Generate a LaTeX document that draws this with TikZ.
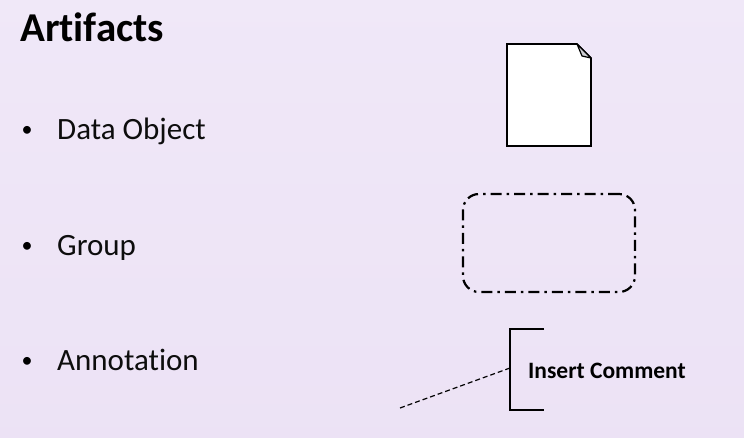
\documentclass[tikz,border=0pt]{standalone}
\usepackage{fontspec}
\setmainfont{Carlito}[RawFeature={-liga;-clig;-calt;-rlig;-dlig}]
\usetikzlibrary{calc}
\definecolor{bgA}{RGB}{251,249,255}
\definecolor{bgB}{RGB}{245,240,252}
\definecolor{bgC}{RGB}{236,226,245}
\definecolor{bgD}{RGB}{216,201,228}
\definecolor{bgE}{RGB}{192,176,206}
\definecolor{foldgray}{RGB}{205,205,210}
\pgfdeclareverticalshading{slidebg}{744pt}{%
  color(0pt)=(bgE); color(80pt)=(bgD); color(190pt)=(bgC); color(320pt)=(bgB); color(437pt)=(bgA)}
\tikzset{
  bullettext/.style={anchor=base west, inner sep=0pt, font=\fontsize{31}{36}\selectfont, text=black!95},
  bulletdot/.style={anchor=base, inner sep=0pt, font=\fontsize{22}{26}\selectfont},
  shapeline/.style={line width=1.6pt, black},
}
\begin{document}
\begin{tikzpicture}[x=1pt,y=-1pt]
\useasboundingbox (0,0) rectangle (744,437);
\shade[shading=slidebg] (0,0) rectangle (744,437);
% title
\node[anchor=base west, inner sep=0pt, font=\fontsize{41}{46}\selectfont\bfseries] (title) at (20,41) {Artifacts};
% bullets
\node[bulletdot] (b1) at (27,136) {•};
\node[bullettext] (t1) at (57,139) {Data Object};
\node[bulletdot] (b2) at (27,252) {•};
\node[bullettext] (t2) at (57,255) {Group};
\node[bulletdot] (b3) at (27,367) {•};
\node[bullettext] (t3) at (57,370) {Annotation};
% data object
\coordinate (d1) at (507,44);
\coordinate (d2) at (577,44);
\coordinate (d3) at (591,58);
\coordinate (d4) at (591,146);
\coordinate (d5) at (507,146);
\filldraw[shapeline, fill=white, line join=miter] (d1) -- (d2) -- (d3) -- (d4) -- (d5) -- cycle;
\filldraw[line width=1.2pt, fill=foldgray, line join=round] (d2) -- (582,56) -- (d3) -- cycle;
% group
\node[draw, line width=2.2pt, rounded corners=16pt, dash pattern=on 11pt off 5pt on 2.5pt off 5pt,
  minimum width=172pt, minimum height=98pt, inner sep=0pt] (grp) at (549,243) {};
% annotation
\coordinate (a1) at (544,329);
\coordinate (a2) at (510,329);
\coordinate (a3) at (510,410);
\coordinate (a4) at (544,410);
\coordinate (amid) at (510,368);
\coordinate (aend) at (400,408);
\draw[line width=2pt, line join=miter] (a1) -- (a2) -- (a3) -- (a4);
\draw[line width=1.2pt, dash pattern=on 5pt off 3pt] (amid) -- (aend);
\node[anchor=base west, inner sep=0pt, font=\fontsize{23.5}{28}\selectfont\bfseries] (cmt) at (528,378) {Insert Comment};
\end{tikzpicture}
\end{document}
